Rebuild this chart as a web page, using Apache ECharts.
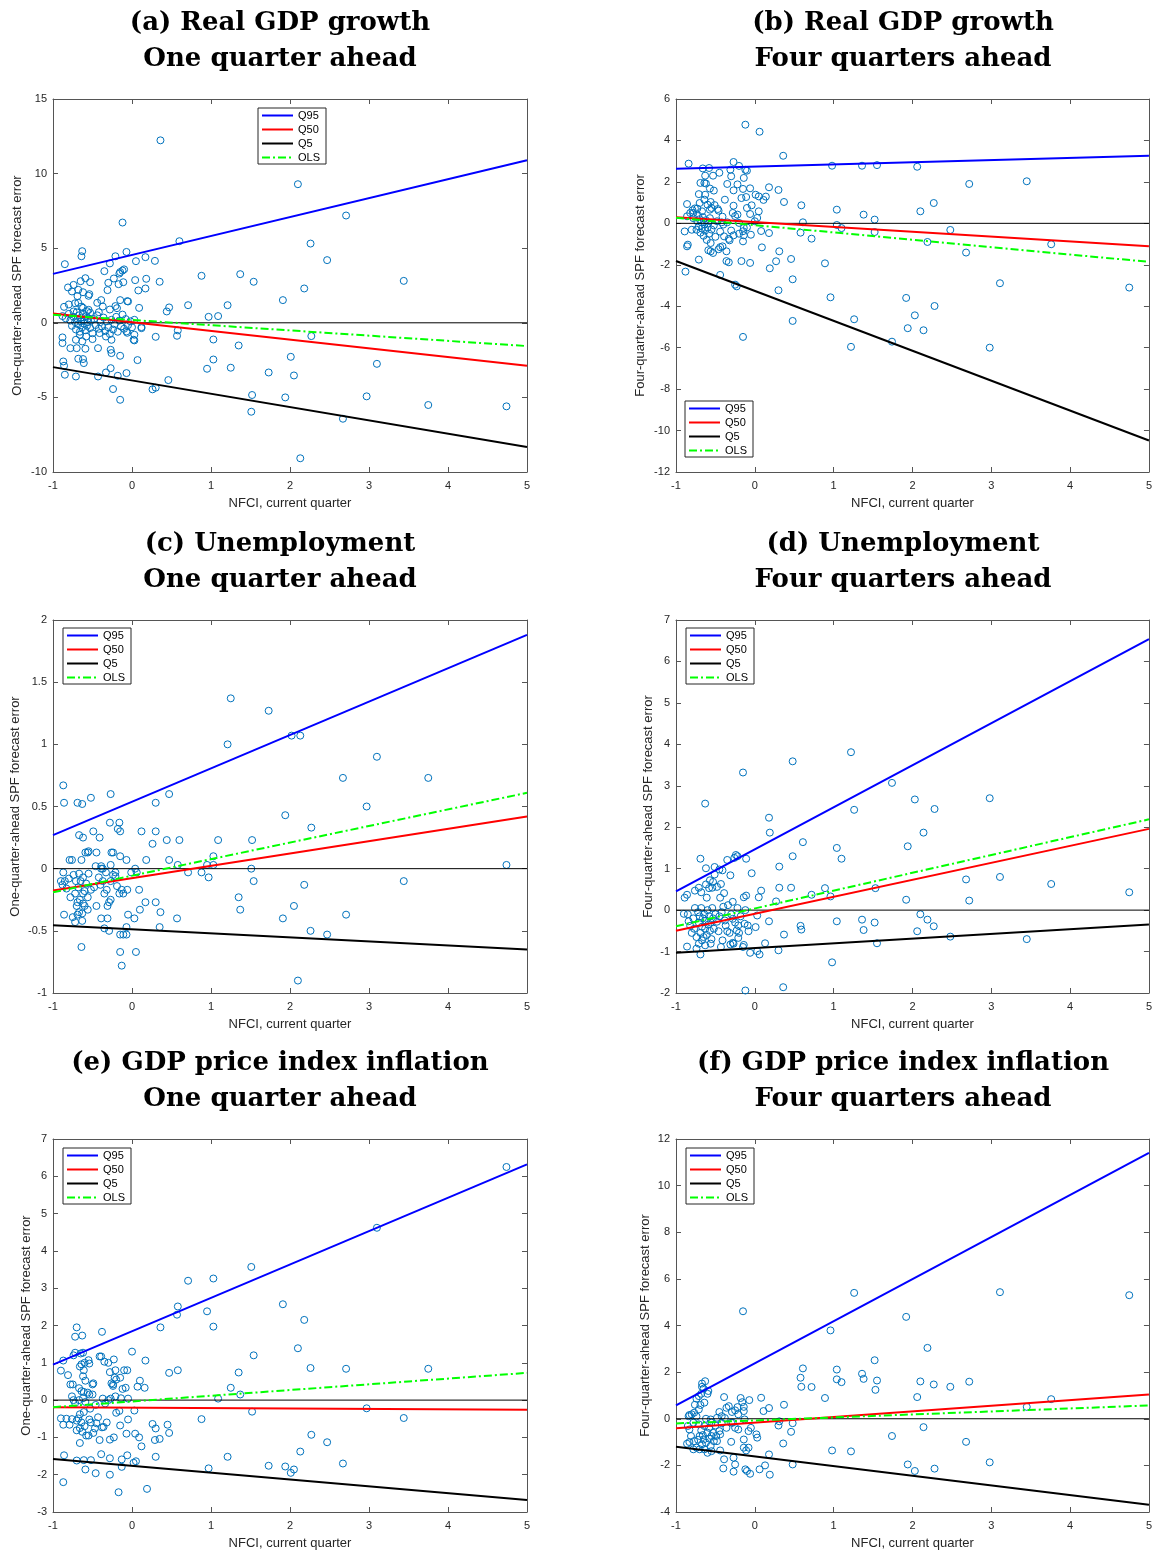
<!DOCTYPE html>
<html><head><meta charset="utf-8">
<script src="https://cdn.jsdelivr.net/npm/echarts@6/dist/echarts.min.js"></script>
<style>html,body{margin:0;padding:0;background:#fff}#c{width:1155px;height:1551px}</style>
</head><body><div id="c"></div>
<script>
// ---------- DATA ----------
const titleLine1 = ['(a) Real GDP growth','(b) Real GDP growth','(c) Unemployment','(d) Unemployment','(e) GDP price index inflation','(f) GDP price index inflation'];
const titleLine2 = ['One quarter ahead','Four quarters ahead','One quarter ahead','Four quarters ahead','One quarter ahead','Four quarters ahead'];
const yAxisNames = ['One-quarter-ahead SPF forecast error','Four-quarter-ahead SPF forecast error','One-quarter-ahead SPF forecast error','Four-quarter-ahead SPF forecast error','One-quarter-ahead SPF forecast error','Four-quarter-ahead SPF forecast error'];
const xAxisName = 'NFCI, current quarter';
const xRange = [-1, 5, 1];
const yRanges = [[-10,15,5],[-12,6,2],[-1,2,0.5],[-2,7,1],[-3,7,1],[-4,12,2]];
const legendNames = ['Q95','Q50','Q5','OLS'];
const lineX = [-1, 5];
// fitted line values at NFCI = -1 and NFCI = 5, panels a..f
const q95Ends = [[3.28,10.89],[2.64,3.26],[0.27,1.88],[0.45,6.54],[0.95,6.32],[0.57,11.4]];
const q50Ends = [[0.63,-2.88],[0.29,-1.11],[-0.175,0.42],[-0.50,1.96],[-0.19,-0.26],[-0.41,1.04]];
const q5Ends  = [[-2.97,-8.33],[-1.82,-10.48],[-0.456,-0.65],[-1.03,-0.35],[-1.58,-2.68],[-1.2,-3.69]];
const olsEnds = [[0.54,-1.56],[0.27,-1.86],[-0.19,0.61],[-0.39,2.19],[-0.19,0.73],[-0.2,0.57]];

const ptsA = [[0.36,12.23],[2.10,9.29],[2.71,7.19],[-0.12,6.72],[0.60,5.47],[2.26,5.31],[2.47,4.20],
[0.88,3.15],[1.37,3.26],[1.54,2.75],[3.44,2.81],[2.18,2.30],[1.91,1.52],[0.71,1.18],[1.21,1.18],[0.47,1.03],[0.44,0.76],[0.97,0.40],[1.09,0.45],
[2.27,-0.89],[1.03,-1.12],[1.35,-1.52],[0.57,-0.87],[0.58,-0.51],[2.01,-2.28],[1.03,-2.46],[3.10,-2.75],[1.25,-3.01],[0.95,-3.08],[1.73,-3.33],[2.05,-3.53],[0.46,-3.84],[0.30,-4.35],[0.26,-4.46],[2.97,-4.93],[1.52,-4.84],[1.94,-5.0],[3.75,-5.51],[4.74,-5.60],[1.51,-5.96],[2.67,-6.43],[2.13,-9.08],
[0.30,-0.94],[0.07,-2.50],
[-0.63,4.80],[-0.64,4.46],[-0.85,3.93],[-0.07,4.75],[-0.21,4.46],[-0.28,3.98],[0.05,4.13],[0.17,4.40],[0.29,4.15],[-0.35,3.46],[-0.15,3.40],[-0.12,3.50],[-0.10,3.58],[-0.16,3.30],
[0.04,2.86],[0.18,2.95],[0.08,2.17],[0.17,2.30],[0.35,2.75],[-0.17,2.59],[-0.11,2.72],[-0.23,2.97],[-0.30,2.68],[-0.31,2.19],[-0.53,2.72],[-0.59,2.99],[-0.65,2.79],[-0.74,2.54],[-0.81,2.37],[-0.76,2.10],[-0.54,1.92],[-0.62,2.05],[-0.69,1.79],[-0.68,2.21],[-0.55,1.81],
[-0.80,1.23],[-0.86,1.07],[-0.44,1.34],[-0.39,1.52],[-0.28,0.89],[-0.21,1.12],[-0.68,1.34],[-0.62,1.00],[-0.57,0.78],[-0.53,0.67],[-0.42,0.71],[-0.06,1.45],[-0.15,1.52],[0.09,1.00],[-0.72,1.31],[-0.74,0.76],[-0.64,1.09],[-0.55,0.87],[-0.37,1.09],[-0.19,0.98],[-0.05,1.43],
[-0.88,0.45],[-0.84,0.30],[-0.80,0.60],[-0.78,0.15],[-0.76,-0.20],[-0.74,0.40],[-0.72,0.05],[-0.71,-0.45],[-0.70,0.70],[-0.69,0.25],[-0.68,-0.10],[-0.67,0.50],[-0.66,-0.60],[-0.65,0.10],[-0.64,0.35],[-0.63,-0.30],[-0.62,0.60],[-0.61,-0.05],[-0.60,0.20],[-0.59,-0.50],[-0.58,0.45],[-0.57,-0.20],[-0.56,0.05],[-0.55,0.30],[-0.53,-0.35],[-0.52,0.15],[-0.50,-0.70],[-0.48,0.25],[-0.46,-0.15],[-0.44,0.50],[-0.42,-0.40],[-0.40,0.05],[-0.38,-0.25],[-0.36,0.35],[-0.34,-0.55],[-0.32,0.10],[-0.30,-0.30],[-0.28,-0.75],[-0.26,0.20],[-0.24,-0.45],[-0.22,-0.10],[-0.20,0.40],[-0.18,-0.60],[-0.16,0.15],[-0.14,-0.25],[-0.12,0.55],[-0.10,-0.40],[-0.08,0.25],[-0.05,-0.15],[-0.02,0.10],[0.00,-0.30],[0.03,0.20],[0.12,-0.36],[-0.07,-0.58],[0.03,-0.80],[0.03,-1.18],
[-0.88,-0.98],[-0.88,-1.36],[-0.78,-1.70],[-0.70,-1.70],[-0.59,-1.74],[-0.71,-1.14],[-0.63,-1.25],[-0.66,-0.80],[-0.58,-0.92],[-0.50,-1.09],[-0.41,-0.69],[-0.33,-0.92],[-0.26,-1.14],[-0.26,-2.03],[-0.27,-1.81],[-0.43,-1.70],[-0.15,-2.21],[-0.87,-2.59],[-0.86,-2.88],[-0.85,-3.48],[-0.71,-3.60],[-0.62,-2.43],[-0.61,-2.70],[-0.68,-2.41],[-0.43,-3.60],[-0.27,-3.04],[-0.33,-3.33],[-0.24,-4.44],[-0.15,-5.16],[-0.07,-3.37],[-0.18,-3.55],[0.02,-1.14],[-0.06,-0.67],[0.12,-0.29]];

const ptsB = [[-0.12,4.76],[0.06,4.42],[0.36,3.26],[-0.84,2.88],[0.98,2.78],[1.36,2.78],[1.55,2.81],[2.06,2.73],[2.72,1.90],[3.45,2.03],[2.27,0.98],[2.10,0.58],[1.38,0.42],[1.04,0.66],[0.59,0.87],[0.37,1.03],[0.30,1.61],[0.18,1.74],[0.61,0.05],[1.52,0.18],[1.04,-0.08],[1.10,-0.23],[1.52,-0.42],[0.58,-0.45],[0.72,-0.74],[2.48,-0.32],[2.19,-0.90],[3.76,-1.01],[2.68,-1.41],[0.08,-0.37],[0.18,-0.47],[0.09,-1.16],[0.31,-1.35],[0.27,-1.83],[0.46,-1.72],[0.89,-1.93],[0.19,-2.17],[0.48,-2.70],[0.30,-3.23],[3.11,-2.89],[4.75,-3.10],[0.96,-3.57],[1.92,-3.60],[2.28,-3.99],[2.03,-4.44],[1.26,-4.63],[0.48,-4.71],[1.94,-5.06],[2.14,-5.16],[1.74,-5.71],[1.22,-5.96],[2.98,-6.00],[-0.15,-5.48],[-0.25,-2.96],[-0.23,-3.04],[-0.44,-2.49],[-0.88,-2.33],[-0.17,-1.82],[-0.06,-1.91],[-0.33,-1.88],[-0.36,-1.82],[-0.86,-1.11],[-0.85,-1.03],[-0.89,-0.39],[-0.71,-1.75],[-0.53,-1.43],[-0.56,-1.35],[-0.59,-1.30],[-0.36,-1.35],[-0.41,-1.11],[-0.44,-1.15],[-0.39,-0.63],[-0.33,-0.75],[-0.32,-0.82],[-0.27,-0.58],[-0.15,-0.87],[-0.14,-0.58],[-0.15,-0.38],[-0.14,-0.22],[-0.20,0.02],[-0.22,0.42],[-0.27,0.85],[-0.28,0.50],[-0.17,1.22],[-0.11,1.27],[-0.10,0.74],[-0.06,0.45],[-0.04,0.87],[0.01,1.38],[0.05,1.30],[0.05,0.58],[0.03,0.26],[0.11,1.13],[0.14,1.29],[-0.06,1.69],[-0.15,1.66],[-0.27,1.59],[-0.22,1.88],[-0.14,2.19],[-0.30,2.27],[-0.35,1.90],[-0.31,2.59],[-0.27,2.96],[-0.20,2.77],[-0.10,2.54],[-0.12,2.58],[-0.45,2.44],[-0.58,2.67],[-0.66,2.65],[-0.63,2.30],[-0.53,2.30],[-0.69,1.95],[-0.64,1.95],[-0.62,1.92],[-0.52,1.58],[-0.57,1.68],[-0.71,1.41],[-0.63,1.38],[-0.56,1.03],[-0.64,1.14],[-0.70,0.98],[-0.51,0.88],[-0.55,0.74],[-0.86,0.93],[-0.79,0.63],[-0.73,0.71],[-0.78,0.50],[-0.72,0.38],[-0.67,0.58],[-0.57,0.66],[-0.47,0.69],[-0.41,0.32],[-0.40,-0.06],[-0.38,1.14],[-0.46,0.61],[-0.86,0.34],[-0.80,-0.31],[-0.74,-0.31],
[-0.73,0.10],[-0.71,-0.15],[-0.70,0.20],[-0.69,-0.45],[-0.68,0.05],[-0.67,-0.25],[-0.66,0.30],[-0.65,-0.60],[-0.64,-0.05],[-0.63,-0.35],[-0.62,0.15],[-0.61,-0.80],[-0.60,-0.20],[-0.59,0.00],[-0.58,-0.50],[-0.57,0.25],[-0.56,-0.95],[-0.55,-0.30],[-0.52,-0.10],[-0.50,-0.65],[-0.48,0.10],[-0.46,-1.25],[-0.44,-0.40],[-0.42,0.05],
[-0.78,0.25],[-0.82,0.50],[-0.76,0.72],[-0.60,0.90],[-0.35,0.05],[-0.30,-0.35],[-0.25,0.35],[-0.20,-0.50],[-0.10,-0.20],[0.00,0.10],[-0.05,-0.55]];

const ptsC = [[1.25,1.37],[1.73,1.27],[1.21,1.00],[2.02,1.07],[2.13,1.07],[3.10,0.90],[2.67,0.73],[3.75,0.73],[2.97,0.50],[1.94,0.43],[2.27,0.33],[4.74,0.03],
[-0.87,0.67],[-0.86,0.53],[-0.69,0.53],[-0.63,0.52],[-0.52,0.57],[-0.27,0.60],[0.47,0.60],[0.30,0.53],[-0.28,0.37],[-0.16,0.37],[-0.18,0.32],[-0.15,0.30],[-0.49,0.30],[-0.41,0.25],[-0.67,0.27],[0.12,0.30],[0.30,0.30],[0.26,0.20],[0.44,0.23],[0.60,0.23],[1.09,0.23],[1.52,0.23],[1.03,0.10],[0.47,0.07],[0.58,0.03],[0.95,0.03],[1.03,0.03],[1.51,0.00],[0.71,-0.03],[0.88,-0.03],[0.97,-0.07],[1.54,-0.10],[3.44,-0.10],[2.18,-0.13],[1.35,-0.23],[1.37,-0.33],[2.05,-0.30],[2.71,-0.37],[1.91,-0.40],[2.26,-0.50],[2.47,-0.53],[2.10,-0.90],[0.57,-0.40],[0.35,-0.47],[0.36,-0.35],[0.30,-0.27],[0.17,-0.27],[0.09,-0.17],[0.18,0.07],[0.10,-0.33],[0.03,-0.40],[-0.05,-0.37],[-0.07,-0.47],[0.05,-0.67],[-0.15,-0.67],[-0.13,-0.78],[-0.15,-0.53],[-0.11,-0.53],[-0.07,-0.53],[-0.29,-0.50],[-0.35,-0.48],[-0.39,-0.40],[-0.31,-0.40],[-0.45,-0.30],[-0.64,-0.63],[-0.86,-0.37],[-0.69,-0.27],[-0.87,-0.03],[-0.90,-0.10],[-0.88,-0.13],[-0.79,0.07],[-0.76,0.07],[-0.75,-0.39],[-0.72,-0.43],[-0.67,-0.35],[-0.63,-0.36],[-0.56,-0.33],[-0.64,0.07],[-0.59,0.13],[-0.56,0.13],[-0.45,0.13],[-0.46,0.02],[-0.39,0.02],[-0.26,0.13],[-0.24,0.13],[-0.15,0.10],[-0.07,0.07],[-0.27,0.03],[-0.37,0.00],[-0.21,-0.06],[-0.01,-0.03],[0.04,0.00],[0.06,-0.03],[-0.32,-0.17],[-0.35,-0.20],[-0.16,-0.20],[-0.11,-0.20],[-0.06,-0.17],[-0.19,-0.14],[-0.27,-0.10],[-0.37,-0.10],[-0.27,-0.25],[-0.29,-0.27],[-0.48,-0.15],[-0.52,-0.17],[-0.56,-0.23],[-0.62,-0.20],[-0.68,-0.15],[-0.71,-0.10],[-0.67,-0.04],[-0.62,-0.07],[-0.55,-0.04],[-0.80,-0.08],[-0.78,-0.23],[-0.72,-0.20],[-0.83,-0.16],[-0.85,-0.10],
[-0.70,-0.30],[-0.66,-0.25],[-0.60,-0.30],[-0.58,-0.12],[-0.74,-0.05],[-0.65,-0.10],[-0.69,-0.37],[-0.62,-0.28],[-0.60,-0.18],[-0.42,-0.07],[-0.40,-0.13],[-0.33,-0.03],[-0.24,-0.05],[-0.31,-0.30],[-0.13,-0.17],[-0.21,-0.03],[-0.62,0.25],[-0.55,0.14],[-0.39,0.00],[-0.63,-0.42]];

const ptsD = [[1.22,3.81],[0.48,3.59],[-0.15,3.32],[1.74,3.07],[-0.63,2.57],[2.98,2.70],[2.03,2.67],[1.26,2.42],[2.28,2.44],[0.18,2.23],[0.19,1.87],[2.14,1.87],[0.61,1.64],[1.94,1.54],[1.04,1.50],[1.10,1.24],[0.48,1.30],[0.31,1.05],[3.11,0.80],[2.68,0.74],[3.76,0.63],[4.75,0.43],[1.53,0.53],[0.89,0.53],[0.46,0.54],[0.31,0.54],[0.72,0.37],[0.96,0.33],[1.92,0.25],[2.72,0.23],[0.27,0.21],[0.08,0.47],[0.05,0.31],[2.10,-0.10],[1.36,-0.23],[2.19,-0.23],[1.04,-0.27],[1.52,-0.30],[2.27,-0.39],[0.58,-0.38],[0.59,-0.47],[2.06,-0.51],[1.38,-0.48],[2.48,-0.64],[3.45,-0.70],[1.55,-0.80],[0.37,-0.59],[0.30,-0.97],[0.13,-0.80],[-0.06,-1.03],[0.06,-1.07],[0.03,-0.99],[0.98,-1.26],[-0.12,-1.94],[0.36,-1.86],[0.18,-0.27],[0.01,-0.41],[0.03,-0.13],[-0.04,0.89],[-0.11,1.24],[-0.11,0.35],[-0.14,0.31],[-0.22,1.30],[-0.24,1.33],[-0.26,1.26],[-0.35,1.21],[-0.31,0.84],[-0.41,0.96],[-0.51,1.04],[-0.62,1.01],[-0.69,1.24],[-0.51,0.86],[-0.53,0.68],[-0.58,0.53],[-0.54,0.54],[-0.43,0.63],[-0.48,0.56],[-0.71,0.54],[-0.68,0.43],[-0.61,0.30],[-0.39,0.41],[-0.44,0.30],[-0.89,0.30],[-0.86,0.37],[-0.76,0.47],[-0.90,-0.09],[-0.85,-0.10],[-0.84,-0.27],[-0.80,-0.55],[-0.86,-0.88],[-0.74,-0.93],[-0.69,-1.07],[-0.71,-0.81],[-0.63,-0.85],[-0.56,-0.81],[-0.67,-0.73],[-0.43,-0.89],[-0.31,-0.83],[-0.28,-0.79],[-0.27,-0.81],[-0.14,-0.84],[-0.15,-0.89],[-0.46,-0.51],[-0.41,-0.73],[-0.35,-0.51],[-0.32,-0.55],[-0.23,-0.49],[-0.20,-0.55],[-0.21,-0.67],[-0.37,-0.37],[-0.28,-0.21],[-0.21,-0.37],[-0.09,-0.37],[-0.13,-0.33],[-0.08,-0.51],
[-0.72,-0.05],[-0.71,-0.30],[-0.70,-0.15],[-0.69,-0.55],[-0.68,0.05],[-0.67,-0.40],[-0.66,-0.20],[-0.65,-0.65],[-0.64,-0.10],[-0.63,-0.45],[-0.62,-0.25],[-0.61,-0.60],[-0.60,0.00],[-0.59,-0.35],[-0.58,-0.15],[-0.57,-0.50],[-0.56,-0.30],[-0.55,-0.70],[-0.54,0.05],[-0.53,-0.20],[-0.52,-0.45],[-0.50,-0.10],[-0.48,-0.28],[-0.45,-0.15],[-0.42,-0.05],[-0.40,0.08],[-0.38,-0.25],[-0.34,0.12],[-0.30,-0.10],[-0.28,0.20],[-0.25,-0.30],[-0.22,0.05],[-0.18,-0.15],[-0.12,0.00],[-0.78,-0.20],[-0.82,-0.38],[-0.76,0.05],[-0.74,-0.65],[-0.77,-0.45],[-0.62,0.62],[-0.57,0.72],[-0.45,0.98]];

const ptsE = [[4.74,6.25],[3.10,4.62],[1.51,3.57],[1.03,3.26],[0.71,3.20],[0.58,2.51],[0.57,2.29],[0.95,2.38],[1.03,1.97],[0.36,1.95],[1.91,2.57],[2.18,2.15],[2.10,1.39],[1.54,1.20],[2.26,0.86],[2.71,0.84],[3.75,0.84],[1.35,0.74],[1.25,0.33],[1.37,0.15],[1.09,0.04],[0.47,0.73],[0.58,0.80],[2.97,-0.22],[1.52,-0.31],[3.44,-0.48],[0.88,-0.51],[2.27,-0.93],[2.47,-1.13],[2.13,-1.38],[1.21,-1.52],[2.67,-1.70],[1.73,-1.76],[1.94,-1.78],[2.05,-1.86],[2.01,-1.95],[0.97,-1.83],[0.45,-0.66],[0.47,-0.88],[0.26,-0.64],[0.30,-0.76],[0.29,-1.07],[0.35,-1.04],[0.30,-1.52],[0.19,-2.38],[-0.17,-2.47],[-0.28,-2.00],[-0.46,-1.96],[-0.59,-1.86],[-0.87,-2.20],[-0.86,-1.48],[-0.70,-1.62],[-0.61,-1.61],[-0.52,-1.61],[-0.39,-1.45],[-0.28,-1.56],[-0.13,-1.59],[-0.06,-1.48],[-0.13,-1.79],[0.02,-1.68],[0.05,-1.64],[0.12,-1.24],[0.09,-1.00],[0.04,-0.90],[-0.07,-0.90],[-0.23,-1.00],[-0.28,-1.06],[-0.41,-1.07],[-0.36,-0.72],[-0.49,-0.88],[-0.55,-0.95],[-0.66,-1.15],[-0.70,-0.81],[-0.79,-0.66],[-0.87,-0.66],[-0.90,-0.49],[-0.43,-0.46],[-0.15,-0.68],[-0.05,-0.52],[0.03,-0.28],[-0.05,0.04],[0.00,1.30],[0.17,1.06],[0.10,0.52],[0.07,0.36],[0.16,0.33],[-0.06,0.80],[-0.23,1.09],[-0.35,1.03],[-0.39,1.17],[-0.38,1.83],[-0.55,1.07],[-0.72,1.27],[-0.70,1.95],[-0.72,1.70],[-0.63,1.73],[-0.81,0.67],[-0.87,1.06],[-0.90,0.79],
[-0.83,-0.50],[-0.76,-0.51],[-0.68,-0.49],[-0.66,-0.38],[-0.61,-0.32],[-0.54,-0.52],[-0.52,-0.60],[-0.47,-0.76],[-0.45,-0.62],[-0.38,-0.73],[-0.32,-0.60],[-0.20,-0.34],[-0.16,-0.29],[-0.14,0.05],[-0.21,0.10],[-0.27,0.04],[-0.30,0.00],[-0.37,0.04],[-0.34,-0.09],[-0.46,-0.13],[-0.53,-0.23],[-0.59,-0.05],[-0.74,0.00],[-0.76,0.10],[-0.72,-0.08],[-0.67,0.00],[-0.21,0.80],[-0.22,0.60],[-0.24,0.42],[-0.26,0.45],[-0.24,0.38],[-0.12,0.30],[-0.08,0.33],[-0.10,0.80],[-0.15,0.60],[-0.20,0.55],[-0.28,0.75],[-0.30,1.00],[-0.41,1.17],[-0.54,0.15],[-0.56,0.20],[-0.49,0.45],[-0.59,0.52],[-0.62,0.64],[-0.61,0.80],[-0.66,0.90],[-0.64,0.96],[-0.65,1.25],[-0.62,1.27],[-0.60,1.00],[-0.67,0.32],[-0.64,0.24],[-0.61,0.22],[-0.78,0.42],[-0.75,0.42],[-0.74,1.20],[-0.54,0.98],[-0.50,0.42],[-0.62,0.05],[-0.50,0.15],[-0.70,-0.55],[-0.66,-0.75],[-0.64,-0.60],[-0.60,-0.70],[-0.58,-0.95],[-0.63,-0.85]];

const ptsF = [[1.26,5.40],[3.11,5.43],[4.75,5.30],[-0.15,4.61],[1.92,4.37],[0.96,3.79],[2.19,3.04],[1.52,2.51],[1.04,2.11],[0.61,2.16],[1.36,1.93],[0.58,1.76],[1.04,1.69],[1.38,1.71],[1.55,1.64],[1.10,1.57],[2.10,1.60],[2.72,1.59],[2.27,1.47],[2.48,1.37],[0.59,1.37],[0.72,1.36],[1.53,1.24],[0.89,0.89],[2.06,0.93],[3.76,0.84],[3.45,0.51],[0.37,0.60],[0.08,0.90],[0.18,0.46],[0.11,0.33],[0.31,-0.11],[0.30,-0.29],[0.48,-0.19],[0.46,-0.56],[0.36,-1.06],[0.48,-1.96],[0.18,-1.53],[0.13,-2.00],[0.06,-2.17],[0.19,-2.40],[-0.06,-2.36],[-0.12,-2.17],[-0.10,-2.24],[-0.25,-1.96],[-0.27,-2.27],[-0.27,-1.67],[-0.40,-2.13],[-0.39,-1.74],[-0.30,-0.99],[0.02,-0.67],[0.03,-0.81],[-0.08,-1.24],[-0.11,-1.36],[-0.14,-1.24],[-0.08,-0.53],[-0.05,-0.39],[-0.14,-0.89],[0.98,-1.36],[1.22,-1.40],[1.74,-0.74],[2.14,-0.36],[1.94,-1.96],[2.03,-2.24],[2.28,-2.14],[2.68,-0.99],[2.98,-1.87],[-0.39,0.93],[-0.18,0.89],[-0.16,0.71],[-0.07,0.80],[-0.14,0.51],[-0.25,0.36],[-0.22,0.50],[-0.33,0.54],[-0.36,0.47],[-0.45,0.29],[-0.42,0.11],[-0.38,0.03],[-0.29,0.29],[-0.21,0.19],[-0.14,0.33],[-0.13,-0.03],[-0.28,-0.17],[-0.30,-0.17],[-0.36,-0.39],[-0.25,-0.39],[-0.21,-0.46],[-0.42,-0.19],[-0.48,0.04],[-0.50,-0.29],[-0.56,-0.03],
[-0.63,1.61],[-0.67,1.51],[-0.67,1.37],[-0.65,1.29],[-0.59,1.19],[-0.60,1.07],[-0.68,1.07],[-0.71,0.97],[-0.74,0.86],[-0.64,0.69],[-0.69,0.59],[-0.71,0.40],[-0.76,0.60],[-0.77,0.26],[-0.80,0.19],[-0.83,0.16],[-0.84,0.11],[-0.85,-0.31],[-0.83,-0.46],[-0.81,-0.74],[-0.83,-1.00],[-0.86,-1.07],[-0.77,-0.96],[-0.70,-0.74],[-0.65,-0.89],[-0.67,-1.10],[-0.62,-1.03],[-0.56,-1.17],[-0.52,-0.96],[-0.48,-0.96],[-0.44,-0.67],[-0.45,-0.53],[-0.49,-0.74],[-0.55,-1.39],[-0.60,-1.46],[-0.64,-1.31],[-0.70,-1.31],[-0.74,-1.24],[-0.78,-1.31],[-0.44,-1.36],[-0.55,-0.74],[-0.60,-0.60],[-0.58,-0.39],[-0.64,-0.31],[-0.71,-0.24],[-0.78,-0.17],[-0.55,-0.17],[-0.62,0.00],[-0.74,0.10],[-0.68,-0.50],[-0.72,-0.90],[-0.66,-0.70],[-0.58,-0.85],[-0.53,-0.60]];

const panelPoints = [ptsA, ptsB, ptsC, ptsD, ptsE, ptsF];

// ---------- LAYOUT / STYLE ----------
const SANS = 'Liberation Sans, Arial, sans-serif';
const SERIF = 'DejaVu Serif, serif';
const gridPos = [[53,99],[676,99],[53,620],[676,620],[53,1139],[676,1139]];
const GW = 474, GH = 373;
const legendPos = [[258,108],[685,401],[63,628],[686,628],[63,1148],[686,1148]];
const yNameGap = [29,29,31,21,20,24];
const axColor = '#555';
const txtColor = '#262626';

const option = {animation:false, backgroundColor:'#fff', title:[], grid:[], xAxis:[], yAxis:[], legend:[], series:[]};

for (let i = 0; i < 6; i++) {
  const [gl, gt] = gridPos[i];
  const cx = gl + 227;
  option.title.push({text: titleLine1[i] + '\n' + titleLine2[i], left: cx, top: gt - 94, textAlign: 'center', padding: 0,
    textStyle: {fontFamily: SERIF, fontWeight: 'bold', fontSize: 26, lineHeight: 36, color: '#000'}});
  option.grid.push({left: gl, top: gt, width: GW, height: GH, containLabel: false});
  const lineCommon = {onZero: false, lineStyle: {color: axColor, width: 1}};
  const tickCommon = {inside: true, length: 5, lineStyle: {color: axColor, width: 1}};
  option.xAxis.push({gridIndex: i, type: 'value', position: 'bottom', min: xRange[0], max: xRange[1], interval: xRange[2],
    name: xAxisName, nameLocation: 'middle', nameGap: 25, nameTextStyle: {fontFamily: SANS, fontSize: 13, color: txtColor},
    axisLine: lineCommon, axisTick: tickCommon, axisLabel: {fontFamily: SANS, fontSize: 11, color: txtColor, margin: 8}, splitLine: {show: false}});
  option.xAxis.push({gridIndex: i, type: 'value', position: 'top', min: xRange[0], max: xRange[1], interval: xRange[2],
    axisLine: lineCommon, axisTick: tickCommon, axisLabel: {show: false}, splitLine: {show: false}});
  const [ymin, ymax, yint] = yRanges[i];
  option.yAxis.push({gridIndex: i, type: 'value', position: 'left', min: ymin, max: ymax, interval: yint,
    name: yAxisNames[i], nameLocation: 'middle', nameGap: yNameGap[i], nameTextStyle: {fontFamily: SANS, fontSize: 13, color: txtColor},
    axisLine: lineCommon, axisTick: tickCommon, axisLabel: {fontFamily: SANS, fontSize: 11, color: txtColor, margin: 6}, splitLine: {show: false}});
  option.yAxis.push({gridIndex: i, type: 'value', position: 'right', min: ymin, max: ymax, interval: yint,
    axisLine: lineCommon, axisTick: tickCommon, axisLabel: {show: false}, splitLine: {show: false}});

  const xi = 2 * i, yi = 2 * i;
  option.series.push({type: 'scatter', name: 'SPF errors', xAxisIndex: xi, yAxisIndex: yi, data: panelPoints[i],
    symbol: 'circle', symbolSize: 7, silent: true, z: 2,
    itemStyle: {color: 'rgba(0,0,0,0)', borderColor: '#0072BD', borderWidth: 1, opacity: 1}});
  option.series.push({type: 'line', name: 'zero', xAxisIndex: xi, yAxisIndex: yi, data: [[lineX[0],0],[lineX[1],0]],
    symbol: 'none', silent: true, z: 3, lineStyle: {color: '#000', width: 1}});
  const mk = (name, ends, color, type) => ({type: 'line', name, xAxisIndex: xi, yAxisIndex: yi,
    data: [[lineX[0], ends[0]], [lineX[1], ends[1]]], symbol: 'none', silent: true, z: 4,
    lineStyle: {color, width: 2, type}, itemStyle: {color}});
  option.series.push(mk('Q95', q95Ends[i], '#0000FF', 'solid'));
  option.series.push(mk('Q50', q50Ends[i], '#FF0000', 'solid'));
  option.series.push(mk('Q5', q5Ends[i], '#000000', 'solid'));
  option.series.push(mk('OLS', olsEnds[i], '#00FF00', [8,3,2,3]));

  option.legend.push({data: legendNames, orient: 'vertical', left: legendPos[i][0], top: legendPos[i][1],
    itemWidth: 31, itemHeight: 12, itemGap: 3, padding: [2, 6, 1, 3], borderColor: '#262626', borderWidth: 1,
    backgroundColor: '#fff', selectedMode: false, z: 10,
    itemStyle: {color: 'rgba(0,0,0,0)', borderColor: 'rgba(0,0,0,0)', borderWidth: 0},
    textStyle: {fontFamily: SANS, fontSize: 11, color: '#000'}});
}

const chart = echarts.init(document.getElementById('c'), null, {renderer: 'canvas'});
chart.setOption(option);
</script>
</body></html>
